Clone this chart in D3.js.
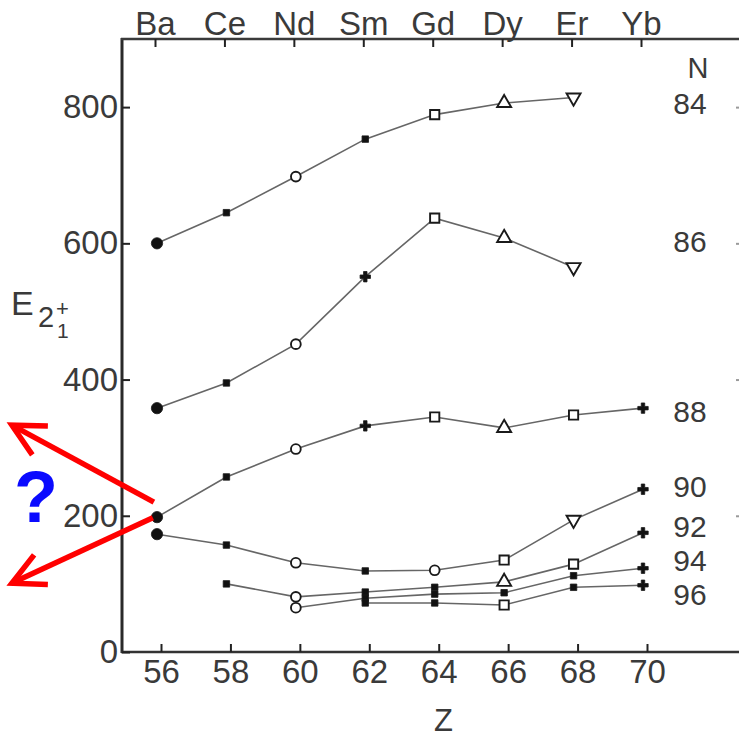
<!DOCTYPE html>
<html>
<head>
<meta charset="utf-8">
<script src="https://cdn.jsdelivr.net/npm/d3@7"></script>
<style>
  html, body { margin: 0; padding: 0; background: #fff; }
  svg { display: block; }
  text { font-family: "Liberation Sans", Arial, sans-serif; }
</style>
</head>
<body>
<svg id="chart" width="739" height="740"></svg>
<script>
// ---- data -------------------------------------------------------------
const zValues  = [56, 58, 60, 62, 64, 66, 68, 70];
const elements = ["Ba", "Ce", "Nd", "Sm", "Gd", "Dy", "Er", "Yb"];
const yTicks   = [0, 200, 400, 600, 800];
const neutronNumbers = [84, 86, 88, 90, 92, 94, 96];

// E(2+1) energies in keV, one entry per Z (null = no nucleus shown)
const e84 = [600, 645, 698, 753, 789, 806, 814, null];
const e86 = [358, 395, 452, 551, 637, 608, 565, null];
const e88 = [198, 257, 298, 332, 345, 329, 348, 358];
const e90 = [173, 157, 131, 119, 120, 135, 194, 239];
const e92 = [null, 100, 81, 88, 95, 103, 129, 175];
const e94 = [null, null, 65, 79, 85, 87, 112, 123];
const e96 = [null, null, null, 72, 72, 69, 95, 98];

// ---- styling / layout ------------------------------------------------
// marker shape at every point of each isotone chain
const markerShapes = [
  ["dot", "fs", "oc", "fs", "os", "tu", "td", null],
  ["dot", "fs", "oc", "x",  "os", "tu", "td", null],
  ["dot", "fs", "oc", "x",  "os", "tu", "os", "x"],
  ["dot", "fs", "oc", "fs", "oc", "os", "td", "x"],
  [null,  "fs", "oc", "fs", "fs", "tu", "os", "x"],
  [null,  null, "oc", "fs", "fs", "fs", "fs", "x"],
  [null,  null, null, "fs", "fs", "os", "fs", "x"]
];
// vertical anchor (in keV) for each N label in the right margin
const labelAnchors = [806, 603, 354, 244, 184, 135, 85];

const W = 739, H = 740;
const frame = { left: 122, top: 39, bottom: 652, right: 739 };
const FONT = 33;
const LABEL_FONT = 30;
const INK = "#3a3a3a";

const series = neutronNumbers.map((n, i) => ({
  n,
  values: [e84, e86, e88, e90, e92, e94, e96][i],
  shapes: markerShapes[i],
  anchor: labelAnchors[i]
}));

const svg = d3.select("#chart");

const x = d3.scaleLinear().domain([56, 70]).range([157, 643]);
const y = d3.scaleLinear().domain([0, 900]).range([frame.bottom, frame.top]);

// ---- frame lines -----------------------------------------------------
const frameG = svg.append("g").attr("stroke", "#2a2a2a").attr("fill", "none");
frameG.append("line")
  .attr("x1", frame.left).attr("x2", frame.left)
  .attr("y1", frame.top - 1).attr("y2", frame.bottom + 1)
  .attr("stroke-width", 3);
frameG.append("line")
  .attr("x1", frame.left - 1).attr("x2", frame.right)
  .attr("y1", frame.top).attr("y2", frame.top)
  .attr("stroke-width", 2.6).attr("stroke", "#3a3a3a");
frameG.append("line")
  .attr("x1", frame.left - 1).attr("x2", frame.right)
  .attr("y1", frame.bottom).attr("y2", frame.bottom)
  .attr("stroke-width", 2.4).attr("stroke", "#333");

function styleAxis(g) {
  g.select(".domain").remove();
  g.selectAll(".tick line").attr("stroke", "#222").attr("stroke-width", 2);
  g.selectAll(".tick text")
    .attr("fill", INK)
    .style("font-size", FONT + "px")
    .style("font-family", '"Liberation Sans", Arial, sans-serif');
}

// left axis: ticks point inward
svg.append("g")
  .attr("transform", `translate(${frame.left},0)`)
  .call(d3.axisLeft(y).tickValues(yTicks).tickSize(-8).tickPadding(4).tickSizeOuter(0))
  .call(styleAxis);

// bottom axis: Z
svg.append("g")
  .attr("transform", `translate(4,${frame.bottom})`)
  .call(d3.axisBottom(x).tickValues(zValues).tickFormat(d3.format("d"))
        .tickSize(-8).tickPadding(8).tickSizeOuter(0))
  .call(styleAxis);

// top axis: element symbols
svg.append("g")
  .attr("transform", `translate(-2,${frame.top})`)
  .call(d3.axisTop(x).tickValues(zValues)
        .tickFormat((d, i) => elements[i])
        .tickSize(-8).tickPadding(4).tickSizeOuter(0))
  .call(styleAxis);

// faint tick stubs along the right edge
svg.append("g")
  .attr("transform", `translate(${W + 1},0)`)
  .call(d3.axisRight(y).tickValues(yTicks.filter(d => d > 0)).tickSize(-4).tickFormat(""))
  .call(g => {
    g.select(".domain").remove();
    g.selectAll(".tick line").attr("stroke", "#9a9a9a").attr("stroke-width", 2);
  });

// ---- axis titles -----------------------------------------------------
svg.append("text")
  .attr("x", (frame.left + W) / 2 + 13).attr("y", 731)
  .attr("text-anchor", "middle")
  .attr("fill", INK)
  .style("font-size", "31px")
  .text("Z");

const yTitle = svg.append("g").attr("fill", INK);
yTitle.append("text").attr("x", 11).attr("y", 315).style("font-size", "34px").text("E");
yTitle.append("text").attr("x", 38).attr("y", 327).style("font-size", "29px").text("2");
yTitle.append("text").attr("x", 56).attr("y", 316).style("font-size", "22px").text("+");
yTitle.append("text").attr("x", 57).attr("y", 338).style("font-size", "21px").text("1");

// ---- isotone chains --------------------------------------------------
const line = d3.line()
  .defined(d => d.e != null)
  .x(d => x(d.z))
  .y(d => y(d.e));

const chains = svg.append("g");

series.forEach(s => {
  const pts = zValues.map((z, i) => ({ z, e: s.values[i], shape: s.shapes[i] }));
  chains.append("path")
    .datum(pts)
    .attr("d", line)
    .attr("fill", "none")
    .attr("stroke", "#666")
    .attr("stroke-width", 1.6);
});

const symbolDefs = {
  dot: { type: d3.symbolCircle,   size: 100, filled: true },
  fs:  { type: d3.symbolSquare,   size: 42,  filled: true },
  x:   { type: d3.symbolCross,    size: 60,  filled: true },
  oc:  { type: d3.symbolCircle,   size: 75,  filled: false },
  os:  { type: d3.symbolSquare,   size: 85,  filled: false },
  tu:  { type: d3.symbolTriangle, size: 85,  filled: false, rot: 0 },
  td:  { type: d3.symbolTriangle, size: 85,  filled: false, rot: 180 }
};

series.forEach(s => {
  const pts = zValues
    .map((z, i) => ({ z, e: s.values[i], shape: s.shapes[i] }))
    .filter(d => d.e != null && d.shape);
  chains.append("g").selectAll("path")
    .data(pts)
    .join("path")
    .attr("d", d => d3.symbol(symbolDefs[d.shape].type, symbolDefs[d.shape].size)())
    .attr("transform", d => `translate(${x(d.z)},${y(d.e)}) rotate(${symbolDefs[d.shape].rot || 0})`)
    .attr("fill", d => symbolDefs[d.shape].filled ? "#111" : "#fff")
    .attr("stroke", "#1a1a1a")
    .attr("stroke-width", d => symbolDefs[d.shape].filled ? 0.8 : 1.9);
});

// ---- N labels in the right margin ------------------------------------
const labelX = 690;
svg.append("text")
  .attr("x", labelX + 8).attr("y", 78)
  .attr("text-anchor", "middle").attr("fill", INK)
  .style("font-size", "29px")
  .text("N");

svg.append("g").selectAll("text")
  .data(series)
  .join("text")
  .attr("x", labelX)
  .attr("y", d => y(d.anchor))
  .attr("dy", "0.36em")
  .attr("text-anchor", "middle")
  .attr("fill", INK)
  .style("font-size", LABEL_FONT + "px")
  .text(d => d.n);

// ---- annotation: red arrows and question mark ------------------------
const arrows = [
  { from: [55.91, 220], to: [51.82, 333] },
  { from: [55.88, 197], to: [51.82, 101] }
];
const ann = svg.append("g")
  .attr("stroke", "#ff0000").attr("stroke-width", 5.5).attr("fill", "none")
  .attr("stroke-linejoin", "miter").attr("stroke-linecap", "butt");
arrows.forEach(a => {
  const x0 = x(a.from[0]), y0 = y(a.from[1]);
  const x1 = x(a.to[0]),   y1 = y(a.to[1]);
  const back = Math.atan2(y0 - y1, x0 - x1);
  const armLen = 36, spread = 27 * Math.PI / 180;
  const arm = t => [x1 + armLen * Math.cos(back + t), y1 + armLen * Math.sin(back + t)];
  const [ax1, ay1] = arm(spread);
  const [ax2, ay2] = arm(-spread);
  ann.append("line").attr("x1", x0).attr("y1", y0).attr("x2", x1 + 2 * Math.cos(back)).attr("y2", y1 + 2 * Math.sin(back));
  ann.append("path").attr("d", `M${ax1},${ay1}L${x1},${y1}L${ax2},${ay2}`);
});

svg.append("text")
  .attr("x", 36).attr("y", 522)
  .attr("text-anchor", "middle")
  .attr("fill", "#0a0aff")
  .style("font-size", "72px")
  .style("font-weight", "bold")
  .text("?");
</script>
</body>
</html>
